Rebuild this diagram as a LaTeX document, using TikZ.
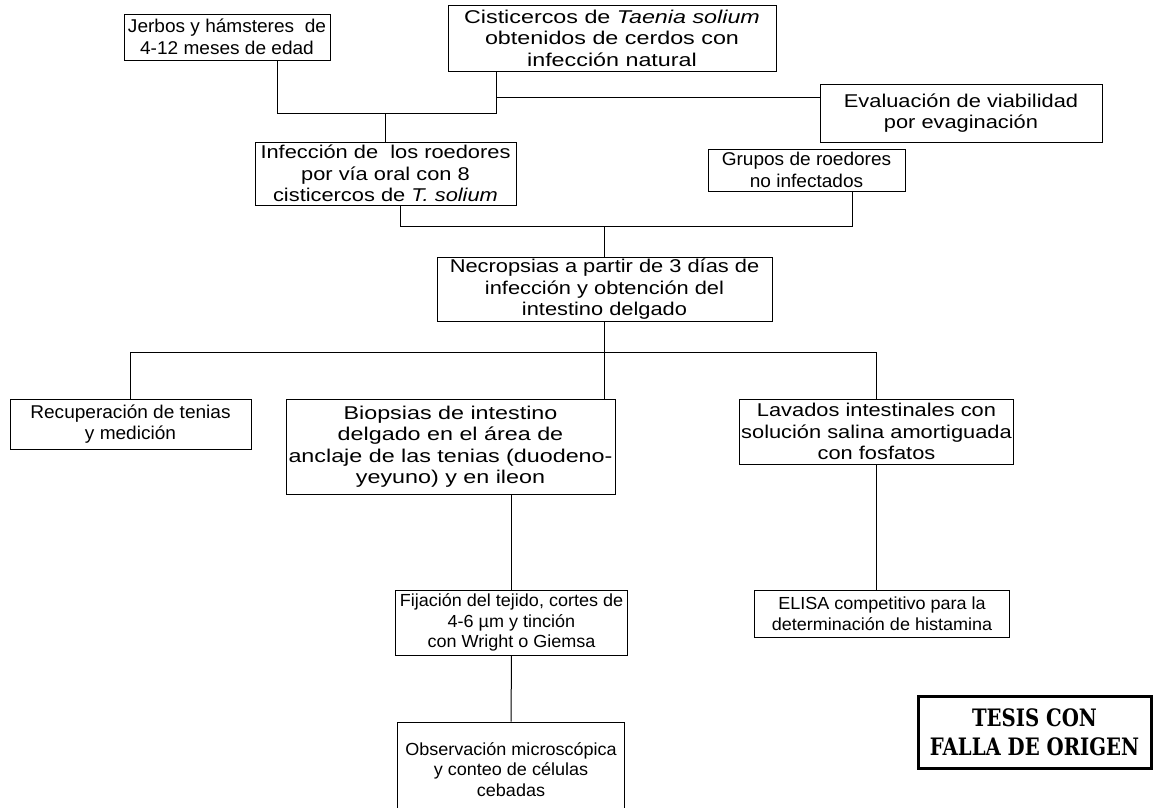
\documentclass[tikz,border=0pt]{standalone}
\usepackage{fontspec}
\setmainfont{Liberation Sans}[FakeStretch=1.18]
\newfontfamily\widefont{Liberation Sans}[FakeStretch=1.26]
\newfontfamily\plainfont{Liberation Sans}[FakeStretch=1.03]
\newfontfamily\stampfont{DejaVu Serif}[FakeStretch=0.82]
\begin{document}
\begin{tikzpicture}
    [x=1pt,y=-1pt,line width=1pt,
     box/.style={draw=black,line width=1pt,align=center,inner sep=2pt,
       font=\fontsize{18.5}{21.5}\selectfont},
     widebox/.style={box,font=\widefont\fontsize{18.5}{21.5}\selectfont},
     plainbox/.style={box,font=\plainfont\fontsize{18.5}{21.5}\selectfont},
     smallbox/.style={box,font=\plainfont\fontsize{17.5}{20.5}\selectfont}]
  \clip (0,0) rectangle (1160,807);
  \fill [white] (0,0) rectangle (1160,807);
  % first row
  \node [plainbox,minimum width=206,minimum height=46] (jerbos) at (227,37)
    {Jerbos y hámsteres\ \ de\\4-12 meses de edad};
  \node [widebox,minimum width=328,minimum height=66] (cisti) at (612,38)
    {Cisticercos de \textit{Taenia solium}\\obtenidos de cerdos con\\infección natural};
  \node [box,minimum width=282,minimum height=58] (evalua) at (961,113)
    {Evaluación de viabilidad\\por evaginación};
  \node [box,minimum width=261,minimum height=63] (infec) at (385.5,173.5)
    {Infección de\ \ los roedores\\por vía oral con 8\\cisticercos de \textit{T. solium}};
  \node [plainbox,minimum width=197,minimum height=42] (grupos) at (806.5,170)
    {Grupos de roedores\\no infectados};
  \node [box,minimum width=335,minimum height=63] (necro) at (604.5,289.5)
    {Necropsias a partir de 3 días de\\infección y obtención del\\intestino delgado};
  % three branches
  \node [plainbox,minimum width=241,minimum height=50] (recup) at (130.5,424)
    {Recuperación de tenias\\y medición};
  \node [widebox,minimum width=329,minimum height=95] (biop) at (450.5,446.5)
    {Biopsias de intestino\\delgado en el área de\\anclaje de las tenias (duodeno-\\yeyuno) y en ileon};
  \node [box,minimum width=273,minimum height=65] (lavad) at (876.5,431.5)
    {Lavados intestinales con\\solución salina amortiguada\\con fosfatos};
  \node [smallbox,minimum width=232,minimum height=65] (fijac) at (511.5,622.5)
    {Fijación del tejido, cortes de\\4-6 µm y tinción\\con Wright o Giemsa};
  \node [smallbox,minimum width=255,minimum height=47] (elisa) at (882,613.5)
    {ELISA competitivo para la\\determinación de histamina};
  \node [smallbox,minimum width=227,minimum height=95] (obser) at (511,769.5)
    {Observación microscópica\\y conteo de células\\cebadas};
  \node [draw=black,line width=3pt,align=center,minimum width=233,minimum height=72,
    font=\stampfont\bfseries\fontsize{24}{29}\selectfont] (stamp) at (1034.5,732)
    {TESIS CON\\FALLA DE ORIGEN};
  % connectors
  \coordinate (jl) at (277,113);
  \coordinate (jr) at (496,113);
  \coordinate (ev) at (496,97);
  \draw (jerbos.south -| jl) -- (jl) -- (jr) -- (cisti.south -| jr);
  \draw (ev) -- (ev -| evalua.west);
  \draw (infec.north) -- (infec.north |- jl);
  \coordinate (kl) at (400,226);
  \coordinate (kr) at (852,226);
  \draw (infec.south -| kl) -- (kl) -- (kr) -- (grupos.south -| kr);
  \draw (necro.north) -- (necro.north |- kl);
  \coordinate (ml) at (130.5,352);
  \draw (recup.north) -- (recup.north |- ml) -- (ml -| lavad.north) -- (lavad.north);
  \draw (necro.south) -- (necro.south |- biop.north);
  \draw (biop.south -| fijac.north) -- (fijac.north);
  \draw (lavad.south) -- (lavad.south |- elisa.north);
  \draw (fijac.south) -- (obser.north);
\end{tikzpicture}
\end{document}
